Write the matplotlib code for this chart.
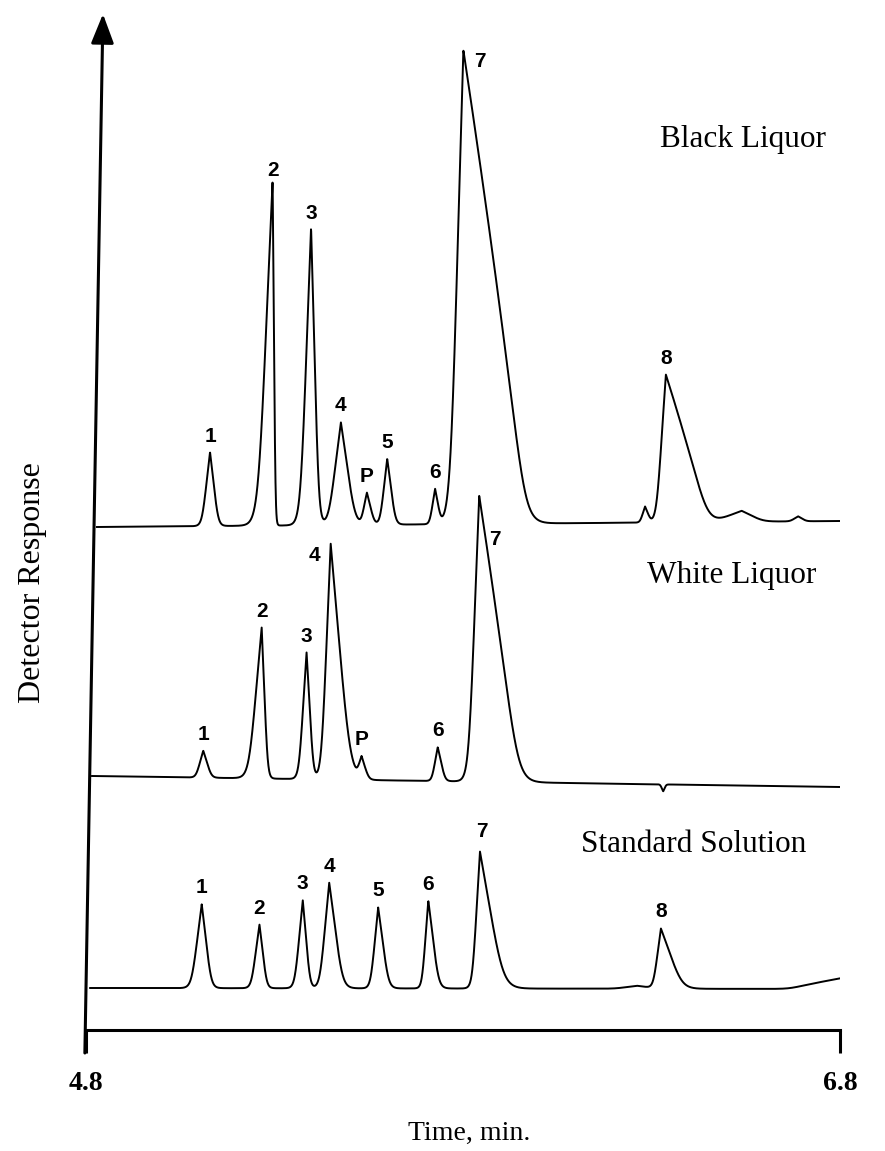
import numpy as np
import matplotlib.pyplot as plt

# Chromatograms: retention time (min), peak height and
# half base widths before / after the apex (min). Response in arbitrary units.
black_names = ["1", "2", "3", "4", "P", "5", "6", "7", "", "8", "", ""]
black_times = [5.129, 5.295, 5.397, 5.476, 5.545, 5.599, 5.726, 5.801, 6.283, 6.338, 6.539, 6.689]
black_heights = [7.4, 34.5, 29.8, 10.3, 3.2, 6.6, 3.5, 47.4, 1.6, 14.8, 1.1, 0.5]
black_left = [0.019, 0.034, 0.025, 0.029, 0.014, 0.017, 0.013, 0.031, 0.012, 0.022, 0.065, 0.019]
black_right = [0.019, 0.0066, 0.018, 0.033, 0.018, 0.019, 0.014, 0.160, 0.014, 0.105, 0.050, 0.019]
black_baseline = [50.3, 50.9]
black_start = 4.829

white_names = ["1", "2", "3", "4", "P", "6", "7", ""]
white_times = [5.111, 5.266, 5.385, 5.449, 5.531, 5.733, 5.843, 6.331]
white_heights = [2.7, 15.1, 12.7, 23.6, 2.1, 3.4, 28.6, -0.7]
white_left = [0.017, 0.030, 0.018, 0.022, 0.012, 0.014, 0.025, 0.007]
white_right = [0.019, 0.014, 0.016, 0.046, 0.017, 0.017, 0.098, 0.007]
white_baseline = [25.4, 24.3]
white_start = 4.816

std_names = ["1", "2", "3", "4", "5", "6", "7", "", "8", ""]
std_times = [5.107, 5.260, 5.375, 5.445, 5.575, 5.708, 5.845, 6.261, 6.325, 6.880]
std_heights = [8.4, 6.4, 8.8, 10.6, 8.1, 8.8, 13.7, 0.3, 6.0, 1.6]
std_left = [0.024, 0.019, 0.019, 0.022, 0.018, 0.015, 0.018, 0.050, 0.018, 0.210]
std_right = [0.022, 0.017, 0.017, 0.031, 0.024, 0.024, 0.054, 0.050, 0.049, 0.210]
std_baseline = [4.2, 4.1]
std_start = 4.811


def softplus(d, r):
    return r * np.logaddexp(0, d / r)


def peak(t, t0, h, a, b, r0=0.012):
    # triangle with rounded feet and slightly full flanks, pointed apex
    w = np.where(t < t0, a, b)
    r = np.minimum(r0, 0.22 * w)
    d = w - np.abs(t - t0)
    return h * (softplus(d, r) / softplus(w, r)) ** 0.85


def trace(start, baseline, times, heights, left, right):
    t = np.linspace(start, 6.8, 4000)
    y = baseline[0] + (baseline[1] - baseline[0]) * (t - start) / (6.8 - start)
    for t0, h, a, b in zip(times, heights, left, right):
        y = y + peak(t, t0, h, a, b)
    return t, y


SERIF = "Liberation Serif"
SANS = "Liberation Sans"

fig = plt.figure(figsize=(8.85, 11.51), dpi=100)
ax = fig.add_axes([86 / 885, 121 / 1151, 754 / 885, 1012 / 1151])

runs = [
    (black_start, black_baseline, black_names, black_times, black_heights, black_left, black_right),
    (white_start, white_baseline, white_names, white_times, white_heights, white_left, white_right),
    (std_start, std_baseline, std_names, std_times, std_heights, std_left, std_right),
]

# label offsets (points) that differ from "straight above the apex"
offsets = [
    {"7": (12, -8)},
    {"4": (-11.5, -8), "7": (11.5, -31)},
    {"7": (1.5, 15)},
]

for (start, base, names, times, heights, left, right), special in zip(runs, offsets):
    t, y = trace(start, base, times, heights, left, right)
    ax.plot(t, y, color="black", lw=1.4, solid_joinstyle="round")
    for name, t0 in zip(names, times):
        if not name:
            continue
        top = np.interp(t0, t, y)
        dx, dy = special.get(name, (0, 12))
        ax.annotate(name, xy=(t0, top), xytext=(dx, dy), textcoords="offset points",
                    ha="center", va="center", fontsize=15, family=SANS, weight="bold")

ax.text(6.543, 89.0, "Black Liquor", ha="center", va="center", fontsize=22.5, family=SERIF)
ax.text(6.514, 45.5, "White Liquor", ha="center", va="center", fontsize=22.5, family=SERIF)
ax.text(6.413, 18.5, "Standard Solution", ha="center", va="center", fontsize=22.5, family=SERIF)

ax.set_xlim(4.8, 6.8)
ax.set_ylim(0, 101.2)
for side in ("top", "right", "left"):
    ax.spines[side].set_visible(False)
ax.spines["bottom"].set_linewidth(2.2)
ax.set_xticks([4.8, 6.8])
ax.set_xticklabels(["4.8", "6.8"], fontsize=20, family=SERIF, weight="bold")
ax.tick_params(axis="x", direction="out", length=16.5, width=2.2, pad=13)
ax.set_yticks([])

# detector axis drawn as an arrow (slightly tilted, as in the scanned original)
ax.annotate("", xy=(4.845, 101.6), xytext=(4.797, -2.3),
            arrowprops=dict(arrowstyle="-|>,head_length=1.8,head_width=0.7", lw=2.2,
                            color="black", shrinkA=0, shrinkB=0, mutation_scale=10),
            annotation_clip=False)

ax.set_xlabel("Time, min.", fontsize=20, family=SERIF)
ax.xaxis.set_label_coords(0.508, -0.090)
ax.set_ylabel("Detector Response", fontsize=23, family=SERIF)
ax.yaxis.set_label_coords(-0.052, 0.442)

fig.savefig("out.png", dpi=100)
